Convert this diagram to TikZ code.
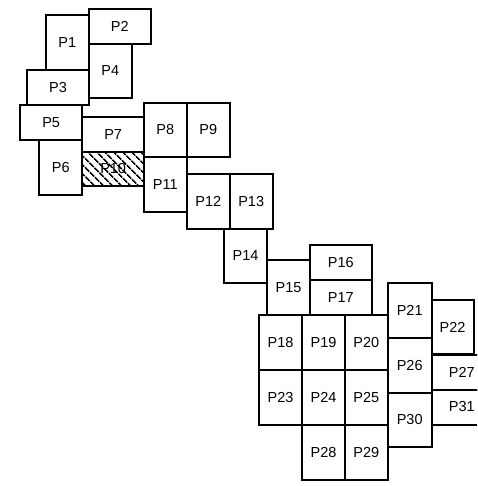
\documentclass[tikz,border=0pt]{standalone}
\usepackage{fontspec}
\setmainfont{Liberation Sans}
\usetikzlibrary{patterns.meta}
\tikzset{
  plot/.style={draw=black, line width=2pt, rectangle, inner sep=0pt, outer sep=0pt,
    font=\fontsize{14.5}{16}\selectfont},
  hatched/.style={pattern={Lines[angle=-45,distance=6.5pt,line width=1.6pt]}, pattern color=black}
}
\begin{document}
\begin{tikzpicture}[x=1pt,y=-1pt]
\useasboundingbox (0,0) rectangle (477,486);
\clip (0,0) rectangle (477,486);
\foreach \n/\xa/\ya/\xb/\yb in {
 P1/46/15/88.7/70, P2/88.7/9/150.7/43.7, P3/27.3/70/88.7/105, P4/88.7/43.7/131.7/98.3,
 P5/20.3/105.3/82/140, P6/39.3/140/82.3/195, P7/82.3/116.7/144/152,
 P8/144/102.7/186.7/156.7, P9/186.7/102.7/229.7/156.7,
 P11/144/156.7/186.7/212, P12/186.7/174/230/228.7, P13/229.7/174/272.7/228.7,
 P14/224/228.7/267/283.3, P15/267/260.3/310/315, P16/310/245.3/371.7/280,
 P17/310/280/371.7/315, P18/259/315/302/370, P19/302/315/345/370, P20/345/315/387.7/370,
 P21/387.7/282.7/431.7/337.7, P22/431.7/300/473.5/354, P23/259/370/302/425,
 P24/302/370/345/425, P25/345/370/387.7/425, P26/387.7/337.7/431.7/392.7,
 P27/431.7/355/492/389.5, P28/302/425/345/480.3, P29/345/425/387.7/480.3,
 P30/387.7/392.7/431.7/446.7, P31/431.7/389.5/492/424.5}
{
  \node[plot, minimum width={(\xb-\xa)*1pt}, minimum height={(\yb-\ya)*1pt}]
    (\n) at ({(\xa+\xb)/2},{(\ya+\yb)/2}) {\n};
}
\node[plot, hatched, minimum width={(144-82.3)*1pt}, minimum height={(186-152)*1pt}]
  (P10) at ({(82.3+144)/2},{(152+186)/2}) {P10};
\end{tikzpicture}
\end{document}
